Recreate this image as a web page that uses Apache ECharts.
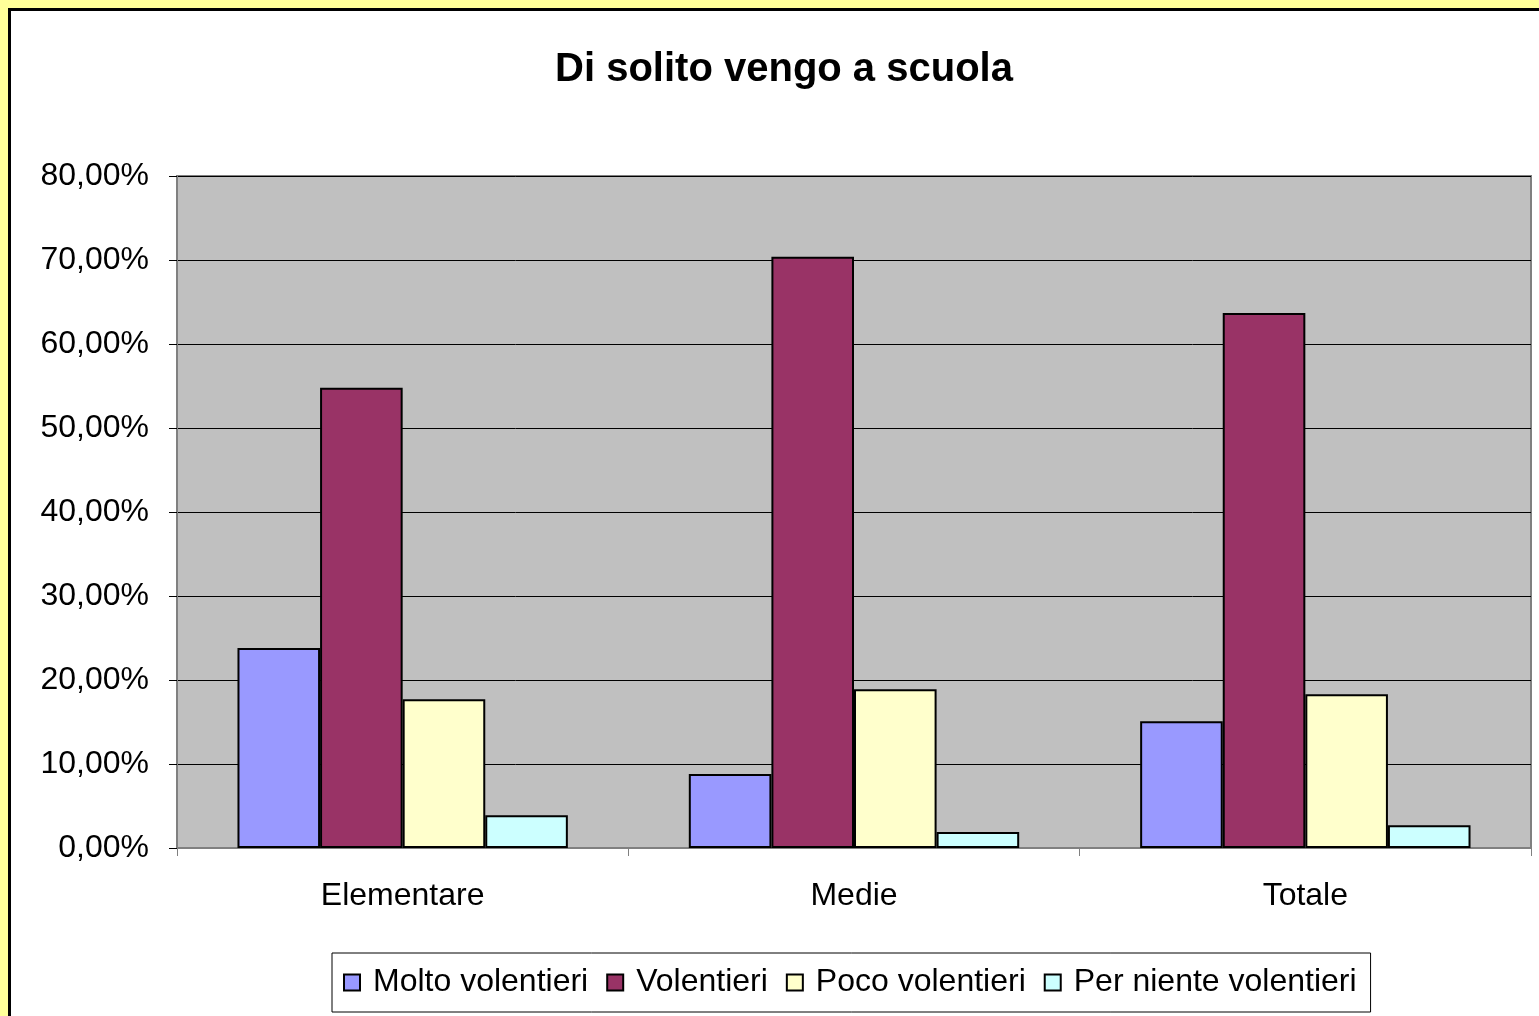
<!DOCTYPE html>
<html><head><meta charset="utf-8">
<script src="https://cdn.jsdelivr.net/npm/echarts@6/dist/echarts.min.js"></script>
<style>
html,body{margin:0;padding:0;background:#FFFF99;overflow:hidden;}
#frame{position:absolute;left:8px;top:8px;width:1600px;height:1100px;border:3px solid #000;background:#fff;box-sizing:border-box;}
#chart{position:absolute;left:0;top:0;width:1539px;height:1016px;}
</style></head>
<body>
<div id="frame"></div>
<div id="chart"></div>
<script>
const categories = ['Elementare', 'Medie', 'Totale'];
const seriesNames = ['Molto volentieri', 'Volentieri', 'Poco volentieri', 'Per niente volentieri'];
const molto = [23.8, 8.8, 15.1];
const volentieri = [54.8, 70.4, 63.7];
const poco = [17.7, 18.9, 18.3];
const perNiente = [3.9, 1.9, 2.7];
const yTickLabels = ['0,00%', '10,00%', '20,00%', '30,00%', '40,00%', '50,00%', '60,00%', '70,00%', '80,00%'];
const colors = ['#9999FF', '#993366', '#FFFFCC', '#CCFFFF'];

const seriesData = [molto, volentieri, poco, perNiente];
const font = 'Liberation Sans, Arial, sans-serif';
const chart = echarts.init(document.getElementById('chart'), null, {renderer: 'canvas'});
chart.setOption({
  backgroundColor: 'transparent',
  animation: false,
  title: {
    text: 'Di solito vengo a scuola',
    left: 779, top: 43, textAlign: 'center',
    textStyle: {fontFamily: font, fontWeight: 'bold', fontSize: 40, color: '#000', lineHeight: 44}
  },
  legend: {
    data: seriesNames,
    left: 332, top: 953,
    width: 1190,
    padding: [12, 14, 12, 11],
    borderColor: '#000', borderWidth: 1,
    itemWidth: 16, itemHeight: 16, itemGap: 18,
    icon: 'rect',
    itemStyle: {borderColor: '#000', borderWidth: 2},
    textStyle: {fontFamily: font, fontSize: 32, color: '#000', lineHeight: 35, padding: [0, 0, 0, 8]}
  },
  grid: {
    left: 177, top: 176, right: 8, bottom: 168,
    show: true, backgroundColor: '#C0C0C0', borderColor: '#808080', borderWidth: 2,
    containLabel: false
  },
  xAxis: {
    type: 'category', data: categories,
    axisLine: {lineStyle: {color: '#808080', width: 2}},
    axisTick: {show: true, length: 8, lineStyle: {color: '#808080', width: 1}},
    axisLabel: {fontFamily: font, fontSize: 32, color: '#000', margin: 32},
  },
  yAxis: {
    type: 'value', min: 0, max: 80, interval: 10,
    axisLine: {show: true, lineStyle: {color: '#808080', width: 2}},
    axisTick: {show: true, length: 8, lineStyle: {color: '#000', width: 1}},
    axisLabel: {fontFamily: font, fontSize: 32, color: '#000', margin: 28,
      formatter: (v) => yTickLabels[Math.round(v / 10)]},
    splitLine: {lineStyle: {color: '#000', width: 1}}
  },
  series: seriesData.map((d, i) => ({
    name: seriesNames[i], type: 'bar', data: d,
    barGap: '0%', barCategoryGap: '26.8%',
    itemStyle: {color: colors[i], borderColor: '#000', borderWidth: 2}
  }))
});
</script>
</body></html>
